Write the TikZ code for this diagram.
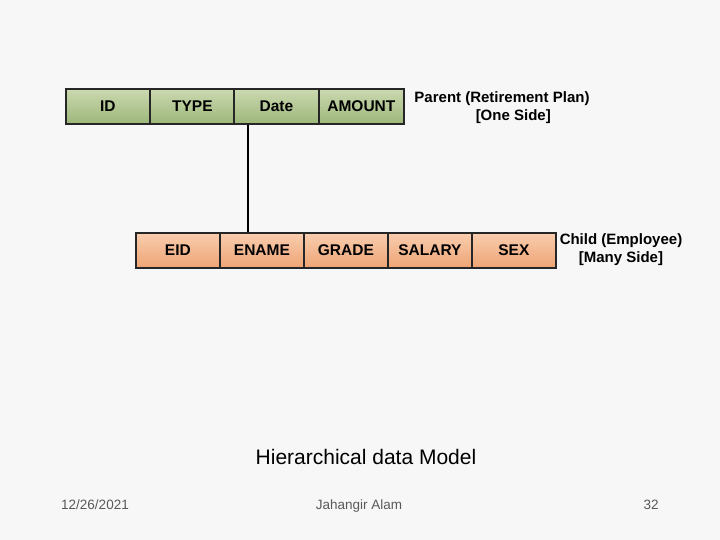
\documentclass[tikz,border=0pt]{standalone}
\usepackage{fontspec}
\setmainfont{Liberation Sans}
\definecolor{gtop}{HTML}{CBD9B0}
\definecolor{gbot}{HTML}{9DB77A}
\definecolor{otop}{HTML}{F8CDAE}
\definecolor{obot}{HTML}{EEA475}
\begin{document}
\begin{tikzpicture}[x=1pt,y=-1pt,
 gcell/.style={draw=black!85,line width=1.8pt,top color=gtop,bottom color=gbot,minimum width=84pt,minimum height=35pt,inner sep=0pt,font=\bfseries\fontsize{15.5}{17}\selectfont,anchor=north west},
 ocell/.style={gcell,top color=otop,bottom color=obot},
 lbl/.style={font=\bfseries\fontsize{15}{18}\selectfont,align=center},
 foot/.style={font=\fontsize{13.5}{15}\selectfont,text=black!65}]
\fill[black!3] (0,0) rectangle (720,540);
\useasboundingbox (0,0) rectangle (720,540);
\node[gcell] (p1) at (65,88) {ID};
\node[gcell,minimum width=85pt] (p2) at (149,88) {TYPE};
\node[gcell,minimum width=85pt] (p3) at (233,88) {Date};
\node[gcell,minimum width=85pt] (p4) at (318,88) {AMOUNT};
\node[lbl] (pl) at (502,108) {Parent (Retirement Plan)\\\hspace*{1.5em}[One Side]};
\node[ocell] (c1) at (135,232) {EID};
\node[ocell] (c2) at (219,232) {ENAME};
\node[ocell] (c3) at (303,232) {GRADE};
\node[ocell] (c4) at (387,232) {SALARY};
\node[ocell] (c5) at (471,232) {SEX};
\node[lbl] (cl) at (621,250) {Child (Employee)\\{[Many Side]}};
\draw[line width=1.8pt] (p3.south west) ++(15,0) coordinate (a) -- (a |- c2.north);
\node[font=\fontsize{21}{24}\selectfont] (t) at (366,457) {Hierarchical data Model};
\node[foot,anchor=base] (d) at (95,509) {12/26/2021};
\node[foot,anchor=base] (n) at (359,509) {Jahangir Alam};
\node[foot,anchor=base] (pg) at (651,509) {32};
\end{tikzpicture}
\end{document}
